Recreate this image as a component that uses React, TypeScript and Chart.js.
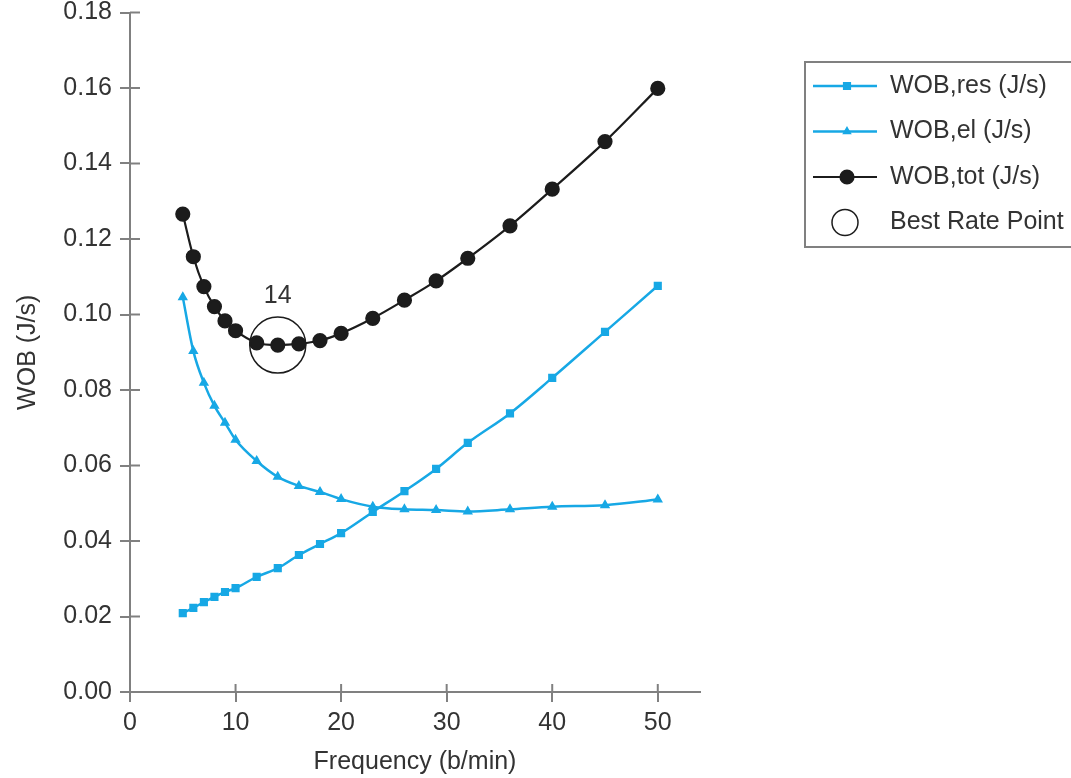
import React, { useEffect, useRef } from 'react';
import { Chart, registerables } from 'chart.js';
import { drawPoint } from 'chart.js/helpers';

Chart.register(...registerables);

// ---- data ----
const frequency = [5, 6, 7, 8, 9, 10, 12, 14, 16, 18, 20, 23, 26, 29, 32, 36, 40, 45, 50];
const wobRes = [0.0209, 0.0223, 0.0238, 0.0252, 0.0265, 0.0275, 0.0305, 0.0328, 0.0363, 0.0392, 0.0421, 0.0477, 0.0532, 0.0591, 0.066, 0.0738, 0.0832, 0.0954, 0.1076];
const wobEl = [0.1046, 0.0903, 0.0819, 0.0758, 0.0713, 0.0668, 0.0612, 0.057, 0.0546, 0.053, 0.0511, 0.0491, 0.0484, 0.0482, 0.0478, 0.0484, 0.0491, 0.0495, 0.051];
const wobTot = [0.1266, 0.1153, 0.1074, 0.1021, 0.0983, 0.0957, 0.0925, 0.0919, 0.0922, 0.0931, 0.095, 0.099, 0.1038, 0.1089, 0.1149, 0.1235, 0.1332, 0.1458, 0.1599];
const bestRateX = [14];
const bestRateY = [0.0919];
const bestRateLabel = '14';
const seriesLabels = ['WOB,res (J/s)', 'WOB,el (J/s)', 'WOB,tot (J/s)', 'Best Rate Point'];
const xAxisTitle = 'Frequency (b/min)';
const yAxisTitle = 'WOB (J/s)';
const xRange = [0, 54];
const yRange = [0, 0.18];
const xStep = 10;
const yStep = 0.02;

const BLUE = '#17a8e5';
const BLACK = '#1c1c1c';
const TEXT = '#333333';
const AXIS = '#808080';
const FONT = "'Liberation Sans', Arial, Helvetica, sans-serif";
const FS = 25;

const toPoints = (xs: number[], ys: number[]) => xs.map((x, i) => ({ x, y: ys[i] }));

const innerTicks = {
  id: 'innerTicks',
  afterDraw(chart: any) {
    const { ctx } = chart;
    const xs = chart.scales.x;
    const ys = chart.scales.y;
    ctx.save();
    ctx.strokeStyle = AXIS;
    ctx.lineWidth = 2;
    xs.ticks.forEach((t: any) => {
      const px = xs.getPixelForValue(t.value);
      ctx.beginPath();
      ctx.moveTo(px, ys.bottom);
      ctx.lineTo(px, ys.bottom - 8);
      ctx.stroke();
    });
    ys.ticks.forEach((t: any) => {
      const py = ys.getPixelForValue(t.value);
      ctx.beginPath();
      ctx.moveTo(xs.left, py);
      ctx.lineTo(xs.left + 10, py);
      ctx.stroke();
    });
    ctx.restore();
  },
};

const bestLabel = {
  id: 'bestLabel',
  afterDatasetsDraw(chart: any) {
    const { ctx } = chart;
    const meta = chart.getDatasetMeta(3);
    const el = meta.data[0];
    if (!el) return;
    ctx.save();
    ctx.fillStyle = TEXT;
    ctx.font = `${FS}px ${FONT}`;
    ctx.textAlign = 'center';
    ctx.textBaseline = 'middle';
    ctx.fillText(bestRateLabel, el.x, el.y - 49);
    ctx.restore();
  },
};

const customLegend = {
  id: 'customLegend',
  afterDraw(chart: any) {
    const { ctx } = chart;
    const left = chart.chartArea.right + 105;
    const top = 62;
    const rowH = 45.5;
    const firstRow = 86;
    ctx.save();
    ctx.strokeStyle = AXIS;
    ctx.lineWidth = 2;
    ctx.strokeRect(left, top, 400, 185);
    chart.data.datasets.forEach((ds: any, i: number) => {
      const y = firstRow + i * rowH;
      if (i < 3) {
        ctx.strokeStyle = ds.borderColor;
        ctx.lineWidth = ds.borderWidth;
        ctx.beginPath();
        ctx.moveTo(left + 8, y);
        ctx.lineTo(left + 72, y);
        ctx.stroke();
        ctx.fillStyle = ds.pointBackgroundColor;
        ctx.strokeStyle = ds.pointBorderColor;
        drawPoint(ctx, { pointStyle: ds.pointStyle, radius: ds.legendRadius, borderWidth: 1, rotation: 0 }, left + 42, y);
      } else {
        ctx.strokeStyle = ds.pointBorderColor;
        ctx.lineWidth = 1.5;
        ctx.beginPath();
        ctx.arc(left + 40, y, 13, 0, Math.PI * 2);
        ctx.stroke();
      }
      ctx.fillStyle = TEXT;
      ctx.font = `${FS}px ${FONT}`;
      ctx.textAlign = 'left';
      ctx.textBaseline = 'middle';
      ctx.fillText(ds.label, left + 85, y);
    });
    ctx.restore();
  },
};

export default function App() {
  const ref = useRef<HTMLCanvasElement | null>(null);

  useEffect(() => {
    if (!ref.current) return;
    Chart.defaults.font.family = FONT;
    const chart = new Chart(ref.current, {
      type: 'line',
      data: {
        datasets: [
          {
            label: seriesLabels[0],
            data: toPoints(frequency, wobRes),
            borderColor: BLUE,
            backgroundColor: BLUE,
            pointBackgroundColor: BLUE,
            pointBorderColor: BLUE,
            borderWidth: 2.5,
            pointStyle: 'rect',
            pointRadius: 4,
            legendRadius: 4,
            cubicInterpolationMode: 'monotone',
          } as any,
          {
            label: seriesLabels[1],
            data: toPoints(frequency, wobEl),
            borderColor: BLUE,
            backgroundColor: BLUE,
            pointBackgroundColor: BLUE,
            pointBorderColor: BLUE,
            borderWidth: 2.5,
            pointStyle: 'triangle',
            pointRadius: 3.5,
            legendRadius: 3,
            cubicInterpolationMode: 'monotone',
          } as any,
          {
            label: seriesLabels[2],
            data: toPoints(frequency, wobTot),
            borderColor: BLACK,
            backgroundColor: BLACK,
            pointBackgroundColor: BLACK,
            pointBorderColor: BLACK,
            borderWidth: 2.2,
            pointStyle: 'circle',
            pointRadius: 6.5,
            legendRadius: 6.5,
            cubicInterpolationMode: 'monotone',
          } as any,
          {
            label: seriesLabels[3],
            data: toPoints(bestRateX, bestRateY),
            showLine: false,
            borderColor: BLACK,
            backgroundColor: 'rgba(0,0,0,0)',
            pointBackgroundColor: 'rgba(0,0,0,0)',
            pointBorderColor: BLACK,
            pointBorderWidth: 1.5,
            pointRadius: 28,
            pointStyle: 'circle',
          } as any,
        ],
      },
      options: {
        animation: false,
        responsive: true,
        maintainAspectRatio: false,
        events: [],
        layout: { autoPadding: false, padding: { left: 0, top: 12.5, right: 371, bottom: 0 } },
        plugins: {
          legend: { display: false },
          tooltip: { enabled: false },
        },
        scales: {
          x: {
            type: 'linear',
            min: xRange[0],
            max: xRange[1],
            afterFit: (s: any) => { s.height = 86; s.paddingLeft = 0; s.paddingRight = 0; },
            border: { color: AXIS, width: 2 },
            grid: { display: true, drawOnChartArea: false, drawTicks: true, tickLength: 10, color: AXIS, lineWidth: 2 },
            ticks: {
              stepSize: xStep,
              includeBounds: false,
              color: TEXT,
              font: { size: FS, family: FONT },
              padding: 6,
              maxRotation: 0,
            },
            title: {
              display: true,
              text: xAxisTitle,
              color: TEXT,
              font: { size: FS, family: FONT },
              padding: { top: 0, bottom: 1 },
            },
          },
          y: {
            type: 'linear',
            min: yRange[0],
            max: yRange[1],
            afterFit: (s: any) => { s.width = 130; s.paddingTop = 0; s.paddingBottom = 0; },
            border: { color: AXIS, width: 2 },
            grid: { display: true, drawOnChartArea: false, drawTicks: true, tickLength: 10, color: AXIS, lineWidth: 2 },
            ticks: {
              stepSize: yStep,
              color: TEXT,
              font: { size: FS, family: FONT },
              padding: 8,
              callback: (v: any) => Number(v).toFixed(2),
            },
            title: {
              display: true,
              text: yAxisTitle,
              color: TEXT,
              font: { size: FS, family: FONT },
              padding: { top: 13, bottom: 0 },
            },
          },
        },
      } as any,
      plugins: [innerTicks, bestLabel, customLegend],
    });
    return () => chart.destroy();
  }, []);

  return (
    <div style={{ position: 'fixed', left: 0, top: 0, width: 1071, height: 778, background: '#fff' }}>
      <canvas ref={ref} />
    </div>
  );
}
